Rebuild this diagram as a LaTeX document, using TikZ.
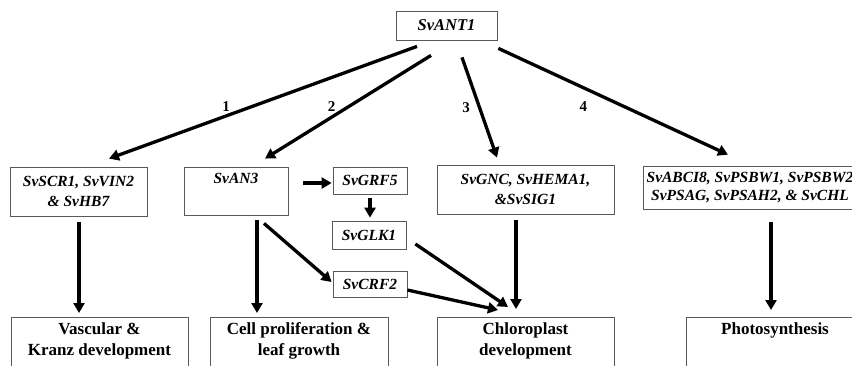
\documentclass[tikz,border=0pt]{standalone}
\usepackage{fontspec}
\setmainfont{Liberation Serif}
\usetikzlibrary{arrows.meta,calc}

\begin{document}
\begin{tikzpicture}[x=1pt, y=-1pt,
    gene/.style={draw=black!65, line width=0.8pt, align=center, inner sep=2pt,
      font=\fontsize{15.5}{20}\selectfont\bfseries\itshape},
    effect/.style={draw=black!65, line width=0.8pt, align=center, anchor=north,
      inner sep=5pt, minimum width=177pt, font=\fontsize{17}{21}\selectfont\bfseries},
    arr/.style={line width=3.3pt, -{Triangle[length=10pt,width=11pt]}},
    num/.style={font=\fontsize{15}{17}\selectfont\bfseries, inner sep=2pt}]
    \useasboundingbox (0,0) rectangle (852,365);
    \clip (0,0) rectangle (852,365);

    % ノード
    \node[gene, minimum width=101pt, minimum height=29pt,
      font=\fontsize{16.5}{20}\selectfont\bfseries\itshape] (ant1) at (446.5,25.5) {SvANT1};
    \node[gene, minimum width=137pt, minimum height=49pt] (scr) at (78.5,191.5) {SvSCR1, SvVIN2\\ \& SvHB7};
    \node[gene, minimum width=104pt, minimum height=48pt] (an3) at (236,191) {SvAN3\\ \strut};
    \node[gene, minimum width=74pt, minimum height=27pt] (grf5) at (370,180.5) {SvGRF5};
    \node[gene, minimum width=74pt, minimum height=28pt] (glk1) at (369,235) {SvGLK1};
    \node[gene, minimum width=74pt, minimum height=26pt] (crf2) at (370,284) {SvCRF2};
    \node[gene, minimum width=177pt, minimum height=49pt] (gnc) at (525.5,189.5) {SvGNC, SvHEMA1,\\ \&SvSIG1};
    \node[gene, minimum width=214pt, minimum height=43pt,
      font=\fontsize{15.5}{18}\selectfont\bfseries\itshape] (abci) at (750,187.5)
      {SvABCI8, SvPSBW1, SvPSBW2\\ SvPSAG, SvPSAH2, \& SvCHL};

    \node[effect] (vasc) at (99.5,317) {Vascular \&\\ Kranz development\\ \strut};
    \node[effect, minimum width=178pt] (cell) at (299,317) {Cell proliferation \&\\ leaf growth\\ \strut};
    \node[effect] (chloro) at (525.5,317) {Chloroplast\\ development\\ \strut};
    \node[effect, minimum width=178pt] (photo) at (775,317) {Photosynthesis\\ \strut\\ \strut};

    % 矢印を引く
    \draw[arr] ($(ant1.south)+(-29.5,6)$) -- node[num, pos=.62, above=1pt] {1} ($(scr.north)+(30.5,-8)$);
    \draw[arr] ($(ant1.south)+(-15.5,15)$) -- node[num, pos=.5, left=9pt] {2} ($(an3.north)+(29,-8)$);
    \draw[arr] ($(ant1.south)+(15.5,17)$) -- node[num, pos=.5, left=6pt] {3} ($(gnc.north)+(-28.5,-7)$);
    \draw[arr] ($(ant1.south east)+(1,8)$) -- node[num, pos=.37, below=10pt] {4} ($(abci.north)+(-22,-11)$);

    \draw[arr] ($(scr.south)+(0.5,6)$) -- ($(vasc.north)+(-20.5,-4)$);
    \draw[arr] ($(an3.south)+(21,5)$) -- ($(cell.north)+(-42,-4)$);
    \draw[arr] ($(an3.south)+(28,8)$) -- ($(crf2.west)+(-1,-2)$);
    \draw[arr] ($(an3.east)+(15,-8)$) -- ($(grf5.west)+(-1,2.5)$);
    \draw[arr] ($(grf5.south)+(0,4)$) -- ($(glk1.north)+(1,-3)$);
    \draw[arr] ($(glk1.east)+(9,9)$) -- ($(chloro.north)+(-17.5,-10)$);
    \draw[arr] ($(crf2.east)+(0,6)$) -- ($(chloro.north)+(-27.5,-7)$);
    \draw[arr] ($(gnc.south)+(-9.5,6)$) -- ($(chloro.north)+(-9.5,-8)$);
    \draw[arr] ($(abci.south)+(21,13)$) -- ($(photo.north)+(-4,-7)$);
  \end{tikzpicture}
\end{document}
